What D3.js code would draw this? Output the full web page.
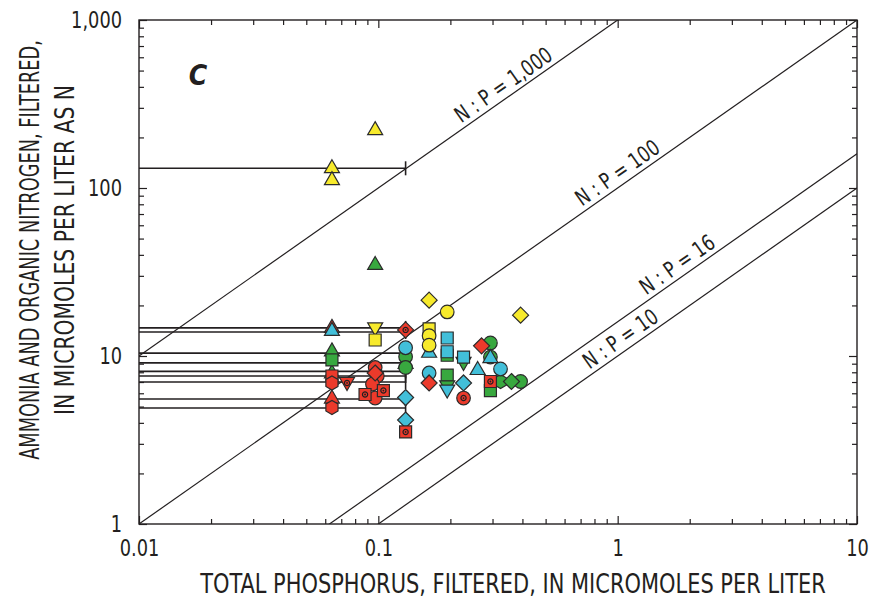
<!DOCTYPE html>
<html>
<head>
<meta charset="utf-8">
<script src="https://cdn.jsdelivr.net/npm/d3@7"></script>
<style>
  body { margin: 0; background: #fff; }
  svg text { font-family: "DejaVu Sans Condensed", "Liberation Sans Narrow", sans-serif; fill: #231f20; }
</style>
</head>
<body>
<svg id="chart" width="874" height="604"></svg>
<script>
// total phosphorus (x) vs ammonia + organic N (y), micromoles per liter

const xMajor = [0.01, 0.1, 1, 10];
const yMajor = [1, 10, 100, 1000];
const ratios = [1000, 100, 16, 10];
const ratioLabels = ['N : P = 1,000', 'N : P = 100', 'N : P = 16', 'N : P = 10'];
const ratioLabelAt = [0.357, 1.07, 1.9, 1.1];

// censored P (less than reporting level) -> horizontal bars
const censorN = [131, 14.7, 13.9, 10.4, 9.1, 8.1, 7.6, 7.0, 5.55, 4.9];
const censorP = 0.13;

// [P, N]
const yellowTriangle = [[0.097, 224], [0.064, 133], [0.064, 113], [0.13, 9.1]];
const yellowDown = [[0.097, 14.6]];
const yellowSquare = [[0.097, 12.45], [0.163, 14.5]];
const yellowDiamond = [[0.163, 21.5], [0.393, 17.5]];
const yellowCircle = [[0.194, 18.3], [0.163, 13.2], [0.163, 11.6]];

const greenTriangle = [[0.097, 35.3], [0.064, 10.8], [0.064, 8.0]];
const greenSquare = [[0.064, 9.47], [0.194, 10.1], [0.194, 7.7], [0.294, 6.23]];
const greenCircle = [[0.13, 9.9], [0.13, 8.54], [0.294, 11.95], [0.294, 9.86], [0.393, 7.05]];
const greenHexagon = [[0.324, 7.05]];
const greenDiamond = [[0.36, 7.05]];
const greenDown = [[0.227, 9.09], [0.194, 6.6]];

const cyanTriangle = [[0.064, 14.3], [0.163, 10.6], [0.26, 8.37], [0.294, 9.86]];
const cyanSquare = [[0.194, 12.8], [0.194, 10.6], [0.227, 9.86]];
const cyanCircle = [[0.13, 11.2], [0.163, 7.92], [0.324, 8.37]];
const cyanDiamond = [[0.13, 5.66], [0.13, 4.16], [0.227, 6.91]];
const cyanDown = [[0.194, 6.23]];

const redTriangle = [[0.064, 14.9], [0.064, 5.66]];
const redHexagon = [[0.064, 6.91], [0.064, 4.94]];
const redSquare = [[0.064, 7.6]];
const redCircle = [[0.097, 8.54], [0.099, 7.6], [0.0945, 6.81], [0.097, 5.62]];
const redDiamond = [[0.097, 7.92], [0.163, 6.91], [0.27, 11.5]];
const redDiamondDot = [[0.13, 14.3]];
const redSquareDot = [[0.088, 5.9], [0.105, 6.23], [0.13, 3.53], [0.294, 7.05]];
const redCircleDot = [[0.227, 5.62]];
const redDownDot = [[0.074, 6.91]];

const YELLOW = '#f7ea2c', GREEN = '#38a83f', CYAN = '#42bfd9', RED = '#ec3a2b';

const series = [
	{ data: yellowTriangle, shape: 'triangle', fill: YELLOW },
	{ data: greenTriangle, shape: 'triangle', fill: GREEN },
	{ data: greenSquare, shape: 'square', fill: GREEN },
	{ data: greenCircle, shape: 'circle', fill: GREEN },
	{ data: greenDown, shape: 'down', fill: GREEN },
	{ data: redSquare, shape: 'square', fill: RED },
	{ data: redTriangle, shape: 'triangle', fill: RED },
	{ data: cyanTriangle, shape: 'triangle', fill: CYAN },
	{ data: yellowDown, shape: 'down', fill: YELLOW },
	{ data: yellowSquare, shape: 'square', fill: YELLOW },
	{ data: yellowDiamond, shape: 'diamond', fill: YELLOW },
	{ data: yellowCircle, shape: 'circle', fill: YELLOW },
	{ data: greenHexagon, shape: 'hexagon', fill: GREEN },
	{ data: greenDiamond, shape: 'diamond', fill: GREEN },
	{ data: cyanSquare, shape: 'square', fill: CYAN },
	{ data: cyanCircle, shape: 'circle', fill: CYAN },
	{ data: cyanDiamond, shape: 'diamond', fill: CYAN },
	{ data: cyanDown, shape: 'down', fill: CYAN },
	{ data: redHexagon, shape: 'hexagon', fill: RED },
	{ data: redCircle, shape: 'circle', fill: RED },
	{ data: redDiamond, shape: 'diamond', fill: RED },
	{ data: redDiamondDot, shape: 'diamond', fill: RED, dot: true },
	{ data: redSquareDot, shape: 'square', fill: RED, dot: true },
	{ data: redCircleDot, shape: 'circle', fill: RED, dot: true },
	{ data: redDownDot, shape: 'down', fill: RED, dot: true }
];

const svg = d3.select('#chart');
const plotLeft = 139, plotRight = 857, plotTop = 20, plotBottom = 524;

const x = d3.scaleLog().domain([0.01, 10]).range([plotLeft, plotRight]);
const y = d3.scaleLog().domain([1, 1000]).range([plotBottom, plotTop]);

const minorX = x.ticks().filter(d => !xMajor.includes(d));
const minorY = y.ticks().filter(d => !yMajor.includes(d));
const fmt = d3.format(',');

// squeeze glyphs horizontally so the font reads like the condensed original
function condense(sel, k) {
	sel.each(function() {
		const w = this.getComputedTextLength();
		this.setAttribute('textLength', (w * k).toFixed(1));
		this.setAttribute('lengthAdjust', 'spacingAndGlyphs');
	});
}

// title text squeezed to a given width with a scale transform
function squeezedText(cx, cy, rot, size, width, label) {
	const t = svg.append('text')
		.attr('text-anchor', 'middle')
		.attr('font-size', size)
		.text(label);
	const k = width / t.node().getComputedTextLength();
	t.attr('transform', `translate(${cx},${cy}) rotate(${rot}) scale(${k},1)`);
	return t;
}

function styleAxis(g) {
	g.select('.domain').remove();
	g.selectAll('line').attr('stroke', '#231f20').attr('stroke-width', 1.2);
	g.selectAll('text').attr('font-size', 23).attr('fill', '#231f20')
		.style('font-family', '"DejaVu Sans Condensed", "Liberation Sans Narrow", sans-serif')
		.call(condense, 0.86);
}

// bottom + top
svg.append('g').attr('transform', `translate(0,${plotBottom})`)
	.call(d3.axisBottom(x).tickValues(xMajor).tickSize(-8).tickPadding(16).tickFormat(d => d >= 1 ? fmt(d) : String(d)))
	.call(styleAxis);
svg.append('g').attr('transform', `translate(0,${plotBottom})`)
	.call(d3.axisBottom(x).tickValues(minorX).tickSize(-5).tickFormat(''))
	.call(styleAxis);
svg.append('g').attr('transform', `translate(0,${plotTop})`)
	.call(d3.axisTop(x).tickValues(xMajor).tickSize(-8).tickFormat(''))
	.call(styleAxis);
svg.append('g').attr('transform', `translate(0,${plotTop})`)
	.call(d3.axisTop(x).tickValues(minorX).tickSize(-5).tickFormat(''))
	.call(styleAxis);

// left + right
svg.append('g').attr('transform', `translate(${plotLeft},0)`)
	.call(d3.axisLeft(y).tickValues(yMajor).tickSize(-8).tickPadding(17).tickFormat(fmt))
	.call(styleAxis);
svg.append('g').attr('transform', `translate(${plotLeft},0)`)
	.call(d3.axisLeft(y).tickValues(minorY).tickSize(-5).tickFormat(''))
	.call(styleAxis);
svg.append('g').attr('transform', `translate(${plotRight},0)`)
	.call(d3.axisRight(y).tickValues(yMajor).tickSize(-8).tickFormat(''))
	.call(styleAxis);
svg.append('g').attr('transform', `translate(${plotRight},0)`)
	.call(d3.axisRight(y).tickValues(minorY).tickSize(-5).tickFormat(''))
	.call(styleAxis);

svg.append('rect')
	.attr('x', plotLeft).attr('y', plotTop)
	.attr('width', plotRight - plotLeft).attr('height', plotBottom - plotTop)
	.attr('fill', 'none').attr('stroke', '#231f20').attr('stroke-width', 1.4);

// N:P ratio lines, clipped to the plot frame
svg.append('clipPath').attr('id', 'plotClip')
	.append('rect').attr('x', plotLeft).attr('y', plotTop).attr('width', plotRight - plotLeft).attr('height', plotBottom - plotTop);

const ratioG = svg.append('g').attr('clip-path', 'url(#plotClip)');
ratios.forEach(function(r) {
	ratioG.append('line')
		.attr('x1', x(0.01)).attr('y1', y(0.01 * r))
		.attr('x2', x(10)).attr('y2', y(10 * r))
		.attr('stroke', '#231f20').attr('stroke-width', 1.2);
});

const angle = Math.atan2(y(10) - y(1), x(1) - x(0.1)) * 180 / Math.PI;
ratios.forEach(function(r, i) {
	const p = ratioLabelAt[i];
	svg.append('text')
		.attr('transform', `translate(${x(p)},${y(p * r)}) rotate(${angle})`)
		.attr('dy', -5)
		.attr('text-anchor', 'middle')
		.attr('font-size', 22)
		.text(ratioLabels[i])
		.call(condense, 0.86);
});

// censored bars
censorN.forEach(function(n) {
	svg.append('line')
		.attr('x1', x(0.01)).attr('x2', x(censorP))
		.attr('y1', y(n)).attr('y2', y(n))
		.attr('stroke', '#231f20').attr('stroke-width', 1.6);
	svg.append('line')
		.attr('x1', x(censorP)).attr('x2', x(censorP))
		.attr('y1', y(n) - 7).attr('y2', y(n) + 7)
		.attr('stroke', '#231f20').attr('stroke-width', 1.6);
});

// symbols
function shapePath(shape) {
	switch (shape) {
		case 'triangle': return 'M0,-7.5L7.5,5.5L-7.5,5.5Z';
		case 'down': return 'M0,7.5L7.5,-5.5L-7.5,-5.5Z';
		case 'square': return 'M-6,-6H6V6H-6Z';
		case 'diamond': return 'M0,-8L8,0L0,8L-8,0Z';
		case 'hexagon': {
			const pts = d3.range(6).map(k => {
				const a = Math.PI / 6 + k * Math.PI / 3;
				return [7 * Math.cos(a), 7 * Math.sin(a)];
			});
			return 'M' + pts.join('L') + 'Z';
		}
		default: return d3.symbol(d3.symbolCircle, Math.PI * 6.8 * 6.8)();
	}
}

const markG = svg.append('g');
series.forEach(function(s) {
	s.data.forEach(function(d) {
		const g = markG.append('g').attr('transform', `translate(${x(d[0])},${y(d[1])})`);
		g.append('path')
			.attr('d', shapePath(s.shape))
			.attr('fill', s.fill)
			.attr('stroke', '#2b2b2b')
			.attr('stroke-width', 1.2);
		if (s.dot) {
			g.append('circle').attr('r', 2.6).attr('fill', 'none').attr('stroke', '#231f20').attr('stroke-width', 1.2);
			g.append('circle').attr('r', 0.9).attr('fill', '#231f20');
		}
	});
});

// panel letter
svg.append('text')
	.attr('x', 198).attr('y', 85)
	.attr('text-anchor', 'middle')
	.attr('font-size', 28).attr('font-weight', 'bold').attr('font-style', 'italic')
	.text('C');

// axis titles
squeezedText(513, 593, 0, 26, 626, 'TOTAL PHOSPHORUS, FILTERED, IN MICROMOLES PER LITER');
squeezedText(39, 250, -90, 26, 420, 'AMMONIA AND ORGANIC NITROGEN, FILTERED,');
squeezedText(74, 250, -90, 26, 330, 'IN MICROMOLES PER LITER AS N');
</script>
</body>
</html>
